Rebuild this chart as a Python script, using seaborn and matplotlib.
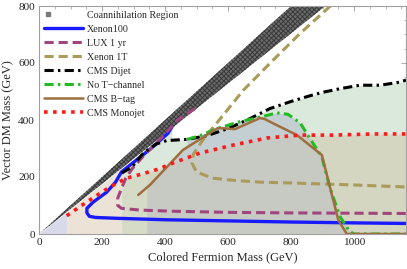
import numpy as np
import pandas as pd
import matplotlib
matplotlib.use("Agg")
import matplotlib.pyplot as plt
from matplotlib.lines import Line2D
from matplotlib.legend_handler import HandlerLine2DCompound
import seaborn as sns

# ---------------- data (GeV) ----------------
x_max = 1165
y_max = 800
coann_ratio_low = 0.88  # lower edge of coannihilation band: m_V = 0.88 m_f

xenon100_x = [422, 410, 362, 310, 262, 243, 215, 172, 152, 152, 160, 180, 250, 400, 600, 800, 1000, 1165]
xenon100_y = [376, 354, 306, 260, 218, 182, 147, 112, 90, 74, 62, 58, 55, 50, 46, 42, 39, 37]

lux_x = [495, 440, 384, 330, 295, 275, 262, 250, 250, 262, 320, 420, 600, 800, 1000, 1165]
lux_y = [440, 400, 332, 272, 228, 195, 160, 126, 100, 90, 84, 80, 76, 74, 73, 72]

xenon1t_x = [925, 829, 744, 649, 564, 520, 490, 485, 500, 550, 620, 700, 800, 1000, 1165]
xenon1t_y = [800, 704, 611, 505, 389, 330, 280, 250, 218, 196, 188, 182, 179, 172, 165]

dijet_x = [263, 295, 330, 370, 406, 470, 533, 600, 670, 733, 800, 860, 900, 956, 1019, 1083, 1146, 1165]
dijet_y = [214, 235, 282, 315, 328, 332, 345, 370, 405, 440, 465, 485, 497, 510, 522, 522, 533, 540]

notch_x = [470, 511, 565, 640, 702, 755, 790, 829, 860, 898, 924, 956, 985, 1000, 1165]
notch_y = [332, 345, 370, 395, 410, 425, 420, 390, 335, 270, 160, 60, 10, 0, 0]

btag_x = [315, 352, 457, 568, 622, 702, 717, 740, 819, 898, 950, 977, 1165]
btag_y = [137, 172, 295, 372, 368, 407, 403, 390, 347, 277, 49, 0, 0]

mono_x = [88, 135, 190, 230, 278, 325, 380, 425, 511, 616, 724, 829, 933, 1060, 1165]
mono_y = [64, 100, 140, 168, 196, 210, 228, 249, 284, 312, 337, 347, 347, 351, 351]

# region boundaries (x edges of shaded strips)
strip_edges = [0, 88, 263, 343]
blue_top_x = 422

x_ticks = [0, 200, 400, 600, 800, 1000]
y_ticks = [0, 200, 400, 600, 800]

# ---------------- style ----------------
sns.set_theme(style="white")
plt.rcParams["font.family"] = ["Liberation Serif", "DejaVu Serif"]
plt.rcParams["hatch.linewidth"] = 0.7

fig = plt.figure(figsize=(4.07, 2.69), dpi=100)
ax = fig.add_axes([39 / 407, 35 / 269, 367 / 407, 228 / 269])

grid = np.linspace(0, x_max, 2331)
band_low = coann_ratio_low * grid

def fill(mask, lo, hi, color, z):
    ax.fill_between(grid, lo, hi, where=mask, color=color, lw=0, zorder=z,
                    interpolate=True)

dij = np.interp(grid, dijet_x, dijet_y)
red = np.interp(grid, mono_x, mono_y)
dome = np.maximum(np.interp(grid, notch_x, notch_y, left=0, right=0),
                  np.interp(grid, btag_x, btag_y, left=0, right=0))

# light green (dijet)
fill((grid >= strip_edges[2]) & (grid <= blue_top_x), 0, np.minimum(band_low, 800), "#dbe9dc", 1)
fill(grid >= strip_edges[2], 0, dij, "#dbe9dc", 1)
# lavender & beige strips
fill(grid <= strip_edges[1], 0, band_low, "#d9d9ec", 2)
fill((grid >= strip_edges[1]) & (grid <= strip_edges[2]), 0, band_low, "#ece3d6", 2)
# olive under monojet
fill((grid >= strip_edges[2]) & (grid <= strip_edges[3]), 0, red, "#d5dbc7", 3)
fill(grid >= strip_edges[3], 0, red, "#d4d6c1", 3)
# dome (B-tag / no T-channel)
dmask = (grid >= strip_edges[3]) & (dome > 0)
fill(dmask, 0, dome, "#c3cfd3", 4)
fill(dmask, 0, np.minimum(dome, red), "#c7cac3", 5)

# coannihilation band
ax.fill_between(grid, band_low, grid, facecolor="#6c6c6c", edgecolor="#3a3a3a",
                hatch="xxxxxxx", lw=0, zorder=6)

lw = 2.2
curves = [
    (xenon100_x, xenon100_y, "#1a1aff", None, 2.4),
    (lux_x, lux_y, "#a0467f", (3.0, 1.6), lw),
    (xenon1t_x, xenon1t_y, "#aa9b5a", (3.0, 1.6), lw),
    (dijet_x, dijet_y, "#000000", (3.0, 1.4, 0.8, 1.4), lw),
    (notch_x, notch_y, "#22bb22", (3.0, 1.4, 0.8, 1.4), lw),
    (btag_x, btag_y, "#9e6e3e", None, 1.8),
    (mono_x, mono_y, "#ff1a1a", (1.0, 1.5), 2.6),
]
for i, (cx, cy, col, dsh, w) in enumerate(curves):
    df = pd.DataFrame({"x": cx, "y": cy})
    sns.lineplot(data=df, x="x", y="y", sort=False, estimator=None, color=col,
                 lw=w, ax=ax, zorder=10 + i)
    ln = ax.lines[-1]
    if dsh is not None:
        ln.set_dashes(dsh)
        ln.set_dash_capstyle("butt")


class LeftMarkerHandler(HandlerLine2DCompound):
    def get_xdata(self, legend, xdescent, ydescent, width, height, fontsize):
        xd, xdm = super().get_xdata(legend, xdescent, ydescent, width, height, fontsize)
        return xd, np.array([-xdescent + 0.12 * width])


labels = ["Coannihilation Region", "Xenon100", "LUX 1 yr", "Xenon 1T", "CMS Dijet",
          "No T\u2212channel", "CMS B\u2212tag", "CMS Monojet"]
marker_handle = Line2D([], [], ls="none", marker="s", ms=3.5, color="#7a7a7a")
handles = [marker_handle]
for cx, cy, col, dsh, w in curves:
    h = Line2D([], [], color=col, lw=w)
    if dsh is not None:
        h.set_dashes(dsh)
        h.set_dash_capstyle("butt")
    handles.append(h)
leg = ax.legend(handles, labels, loc="upper left", frameon=False, fontsize=7.2,
                handlelength=3.9, handletextpad=0.45, labelspacing=0.5,
                borderaxespad=0.3, borderpad=0.15,
                handler_map={marker_handle: LeftMarkerHandler(numpoints=1)})
leg.set_zorder(30)

ax.set_xlim(0, x_max)
ax.set_ylim(0, y_max)
ax.set_xticks(x_ticks)
ax.set_yticks(y_ticks)
ax.set_xticks(np.arange(0, x_max, 50), minor=True)
ax.set_yticks(np.arange(0, y_max, 50), minor=True)
ax.tick_params(which="both", direction="in", top=True, right=True, color="#9a9a9a",
               labelsize=8.2, pad=3)
ax.tick_params(which="major", length=3.5, width=0.6)
ax.tick_params(which="minor", length=1.8, width=0.5)
for s in ax.spines.values():
    s.set_color("#a0a0a0")
    s.set_linewidth(0.8)
    s.set_zorder(40)
ax.set_xlabel("Colored Fermion Mass (GeV)", fontsize=9, labelpad=3)
ax.set_ylabel("Vector DM Mass (GeV)", fontsize=9, labelpad=3)

fig.savefig("out.png", dpi=100)
